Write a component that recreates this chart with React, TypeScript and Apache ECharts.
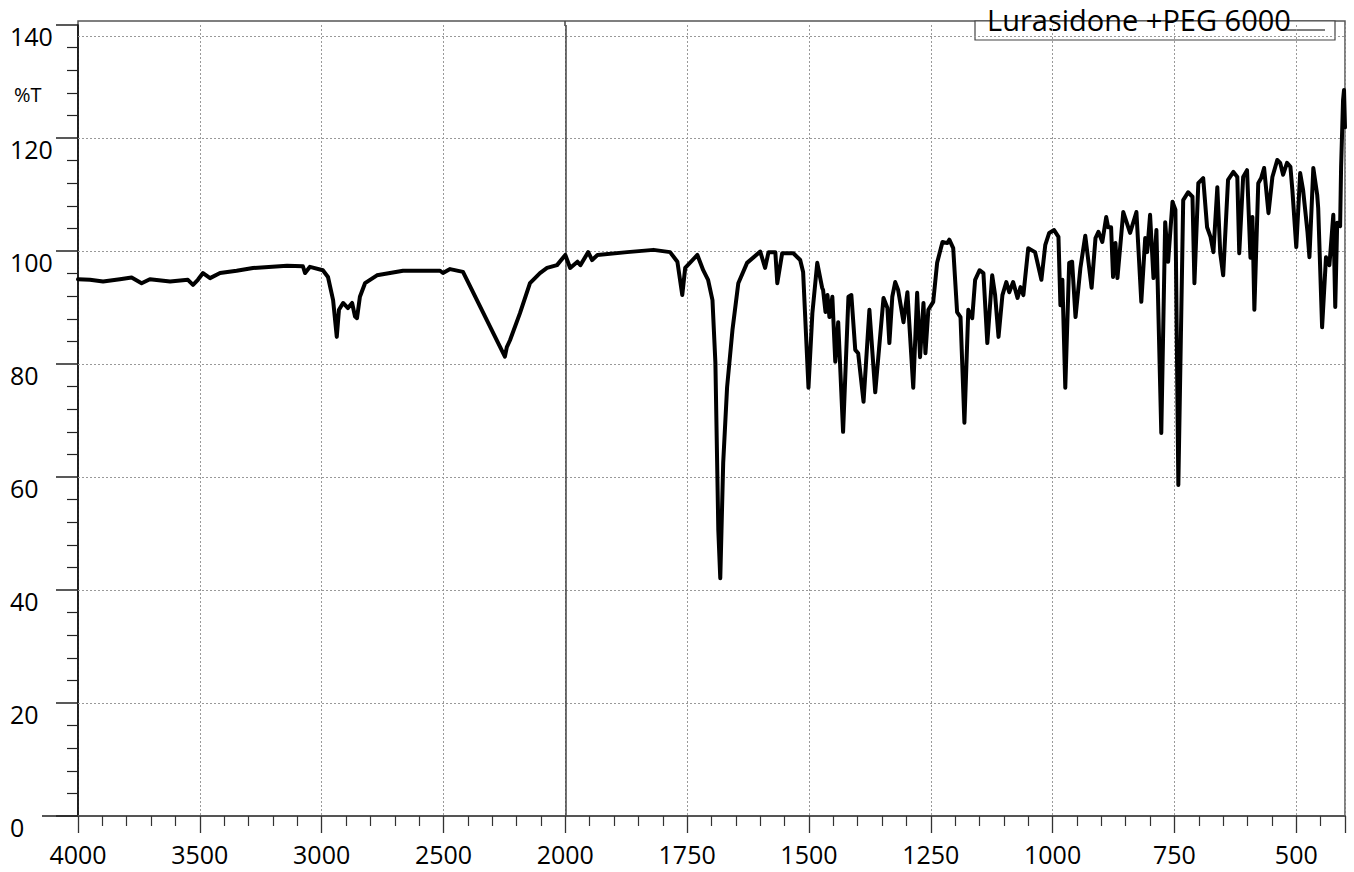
import React, { useEffect, useRef } from "react";
import * as echarts from "echarts";

const SERIES_NAME = "Lurasidone +PEG 6000";
const FONT = "'Open Sans', 'Noto Sans', sans-serif";

// Wavenumber (cm-1), from 4000 down to 400
const wavenumbers = [
  4000, 3951, 3897, 3828, 3780, 3739, 3705, 3622, 3549, 3528, 3508, 3487, 3458, 3417, 3349, 3282,
  3142, 3077, 3068, 3048, 2995, 2974, 2953, 2938, 2929, 2912, 2892, 2875, 2863, 2855, 2843, 2822,
  2773, 2666, 2514, 2502, 2473, 2420, 2248, 2240, 2227, 2186, 2145, 2104, 2075, 2034, 2000,
  1990, 1975, 1969, 1953, 1945, 1934, 1873, 1819, 1785, 1770, 1760, 1754, 1729, 1717, 1707, 1698,
  1692, 1686, 1682, 1676, 1668, 1657, 1645, 1627, 1600, 1590, 1583, 1569, 1565, 1555, 1532, 1518,
  1512, 1501, 1493, 1483, 1473, 1471, 1466, 1462, 1458, 1452, 1446, 1440, 1430, 1419, 1413, 1405,
  1399, 1388, 1376, 1364, 1347, 1339, 1335, 1329, 1323, 1317, 1306, 1298, 1286, 1278, 1272, 1265,
  1261, 1255, 1245, 1237, 1226, 1216, 1212, 1204, 1196, 1189, 1181, 1173, 1165, 1159, 1150, 1142,
  1134, 1124, 1118, 1111, 1103, 1095, 1089, 1081, 1072, 1066, 1060, 1050, 1036, 1023, 1015, 1007,
  997, 988, 984, 980, 974, 966, 960, 953, 943, 933, 920, 912, 906, 898, 890, 886, 880, 876, 871,
  867, 855, 841, 828, 818, 810, 806, 800, 793, 787, 777, 769, 763, 754, 748, 742, 732, 722, 713,
  709, 701, 691, 683, 676, 670, 662, 656, 650, 640, 629, 621, 617, 609, 601, 594, 590, 586, 578,
  572, 566, 557, 549, 539, 533, 527, 519, 512, 508, 500, 492, 486, 477, 473, 465, 457, 455, 447,
  439, 432, 424, 420, 416, 410, 408, 404, 402, 400,
];

// Transmittance (%T) at each wavenumber above
const transmittance = [
  95.0, 94.9, 94.6, 95.0, 95.3, 94.3, 95.0, 94.6, 94.9, 94.0, 94.9, 96.1, 95.2, 96.1, 96.5, 97.0,
  97.4, 97.3, 96.1, 97.2, 96.6, 95.4, 91.3, 84.8, 89.6, 90.8, 89.9, 90.8, 88.4, 88.1, 91.9, 94.3,
  95.7, 96.5, 96.5, 96.1, 96.8, 96.3, 81.3, 83.0, 84.2, 89.0, 94.3, 96.1, 97.0, 97.5, 99.3,
  97.0, 98.1, 97.5, 99.8, 98.4, 99.3, 99.8, 100.2, 99.8, 98.1, 92.2, 97.0, 99.3, 96.6, 94.9, 91.3,
  80.2, 50.6, 42.1, 62.5, 75.9, 86.0, 94.3, 97.9, 99.9, 97.0, 99.8, 99.8, 94.3, 99.6, 99.6, 98.4,
  96.3, 75.8, 89.0, 97.9, 93.5, 93.1, 89.2, 92.2, 88.3, 91.9, 80.4, 87.4, 68.0, 91.9, 92.2, 82.5,
  81.9, 73.3, 89.6, 75.0, 91.7, 89.9, 83.7, 91.9, 94.5, 93.1, 87.4, 92.7, 75.8, 92.6, 81.2, 90.8,
  81.9, 89.6, 91.0, 97.9, 101.6, 101.4, 102.0, 100.5, 89.2, 88.3, 69.6, 89.6, 88.1, 94.9, 96.6, 96.1,
  83.7, 95.7, 92.2, 84.8, 92.2, 94.5, 92.7, 94.5, 91.7, 93.6, 92.2, 100.5, 99.8, 94.9, 101.1, 103.2,
  103.7, 102.5, 90.4, 94.9, 75.8, 97.9, 98.1, 88.3, 97.0, 102.7, 93.5, 102.3, 103.4, 101.6, 106.0, 104.2, 104.2, 95.4, 101.4,
  95.2, 106.9, 103.2, 106.9, 91.0, 102.3, 99.8, 106.4, 95.2, 103.7, 67.8, 105.1, 98.1, 108.7, 107.3, 58.6, 109.0, 110.4, 109.6,
  94.3, 112.0, 112.9, 104.2, 102.5, 99.8, 111.3, 99.6, 95.7, 112.6, 114.0, 113.1, 99.6, 113.1, 114.3, 98.8, 106.0, 89.6, 112.0,
  112.9, 114.7, 106.7, 113.1, 116.1, 115.6, 113.5, 115.6, 114.9, 110.8, 100.7, 113.8, 110.8, 103.4, 98.9, 114.7, 109.9, 107.6, 86.5,
  98.9, 97.5, 106.4, 90.1, 105.0, 104.4, 114.9, 126.7, 128.5, 121.9,
];

// Labelled wavenumbers on the bottom axis
const xTickLabels = [4000, 3500, 3000, 2500, 2000, 1750, 1500, 1250, 1000, 750, 500];

// Horizontal guide levels (%T)
const hGuides = [20, 40, 60, 80, 100, 120, 138];

// The spectrometer axis changes scale at 2000 cm-1: 4000-2000 is compressed 2:1.
const SCALE_BREAK = 2000;
const toPos = (w: number) => (w >= SCALE_BREAK ? (4000 - w) / 2 : 1000 + (SCALE_BREAK - w));
const toWn = (p: number) => (p <= 1000 ? 4000 - 2 * p : SCALE_BREAK - (p - 1000));

export default function App() {
  const ref = useRef<HTMLDivElement>(null);

  useEffect(() => {
    document.body.style.margin = "0";
    if (!ref.current) return;
    const chart = echarts.init(ref.current, undefined, { renderer: "svg" });

    const data = wavenumbers.map((w, i) => [toPos(w), transmittance[i]]);

    chart.setOption({
      animation: false,
      backgroundColor: "#fff",
      grid: { left: 78, right: 9, top: 25, bottom: 56, outerBoundsMode: "none" },
      xAxis: {
        type: "value",
        min: 0,
        max: 2600,
        interval: 250,
        axisLine: { show: true, lineStyle: { color: "#555", width: 2 } },
        axisTick: { show: true, length: 17, lineStyle: { color: "#333", width: 1.3 } },
        minorTick: { show: true, splitNumber: 5, length: 10, lineStyle: { color: "#333", width: 1.2 } },
        axisLabel: {
          margin: 25,
          fontSize: 25,
          lineHeight: 25,
          fontFamily: FONT,
          color: "#000",
          showMaxLabel: false,
          formatter: (p: number) => {
            const w = Math.round(toWn(p));
            return xTickLabels.includes(w) ? String(w) : "";
          },
        },
        splitLine: { show: true, lineStyle: { color: "#999", width: 1, type: [2, 2] } },
      },
      yAxis: {
        type: "value",
        min: 0,
        max: 140,
        interval: 20,
        axisLine: { show: true, lineStyle: { color: "#000", width: 1.5 } },
        axisTick: { show: true, length: 22, lineStyle: { color: "#222", width: 1.5 } },
        minorTick: { show: true, splitNumber: 5, length: 11, lineStyle: { color: "#222", width: 1.2 } },
        axisLabel: {
          align: "left",
          margin: 68,
          fontSize: 25,
          lineHeight: 22,
          fontFamily: FONT,
          color: "#000",
          verticalAlign: "top",
        },
        splitLine: { show: false },
      },
      series: [
        {
          type: "line",
          data: [],
          z: 1,
          silent: true,
          markLine: {
            silent: true,
            symbol: ["none", "none"],
            label: { show: false },
            animation: false,
            data: [
              ...hGuides.map((v) => ({ yAxis: v, lineStyle: { color: "#999", width: 1, type: [2, 2] } })),
              { xAxis: toPos(SCALE_BREAK), lineStyle: { color: "#444", width: 1.5, type: "solid" } },
            ],
          },
        },
        {
          name: SERIES_NAME,
          type: "line",
          data,
          z: 5,
          showSymbol: false,
          smooth: false,
          lineStyle: { color: "#000", width: 4, join: "round", cap: "round" },
        },
      ],
      graphic: [
        {
          type: "rect",
          z: 0,
          silent: true,
          shape: { x: 78, y: 21, width: 1267, height: 795 },
          style: { fill: "none", stroke: "#555", lineWidth: 1.5 },
        },
        {
          type: "line",
          silent: true,
          shape: { x1: 565, y1: 21, x2: 565, y2: 26 },
          style: { stroke: "#444", lineWidth: 1.5 },
        },
        {
          type: "line",
          silent: true,
          shape: { x1: 42, y1: 816, x2: 78, y2: 816 },
          style: { stroke: "#555", lineWidth: 2 },
        },
        {
          type: "text",
          silent: true,
          x: 14,
          y: 84,
          style: { text: "%T", fontSize: 20, lineHeight: 20, fontFamily: FONT, fill: "#000" },
        },
        {
          type: "group",
          silent: true,
          z: 100,
          children: [
            {
              type: "rect",
              shape: { x: 975, y: 21, width: 360, height: 19 },
              style: { fill: "#fff", stroke: "#444", lineWidth: 1.2 },
            },
            {
              type: "text",
              x: 987,
              y: 4,
              style: { text: SERIES_NAME, fontSize: 29, lineHeight: 30, fontFamily: FONT, fill: "#000" },
            },
            {
              type: "line",
              shape: { x1: 1281, y1: 30, x2: 1325, y2: 30 },
              style: { stroke: "#000", lineWidth: 1.2 },
            },
          ],
        },
      ],
    });

    return () => chart.dispose();
  }, []);

  return <div ref={ref} style={{ width: 1354, height: 872 }} />;
}
